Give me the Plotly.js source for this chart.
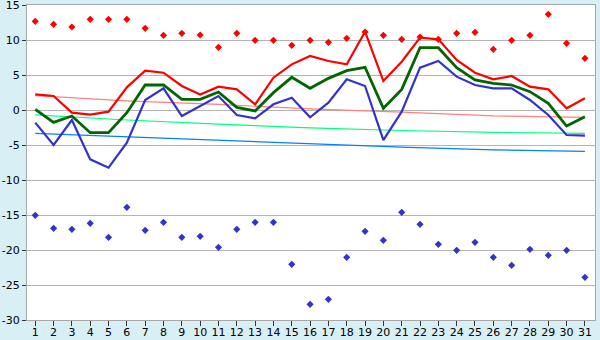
<!DOCTYPE html>
<html>
<head>
<meta charset="utf-8">
<script src="https://cdn.plot.ly/plotly-3.0.1.min.js"></script>
<style>html,body{margin:0;padding:0;background:#d9eff6;}#chart{width:600px;height:340px;}</style>
</head>
<body>
<div id="chart"></div>
<script>
const days = Array.from({length: 31}, (_, i) => i + 1);
const recordMax = [12.67, 12.24, 11.86, 12.95, 12.95, 12.95, 11.67, 10.67, 10.95, 10.71, 8.95, 10.95, 9.95, 9.95, 9.24, 9.95, 9.67, 10.24, 11.14, 10.67, 10.1, 10.43, 10.1, 10.95, 11.1, 8.67, 9.95, 10.67, 13.67, 9.52, 7.38];
const meanMax = [2.24, 2.0, -0.38, -0.67, -0.24, 3.24, 5.62, 5.33, 3.43, 2.2, 3.33, 2.95, 0.81, 4.62, 6.52, 7.71, 7.0, 6.52, 11.19, 4.14, 6.9, 10.33, 10.1, 7.14, 5.33, 4.38, 4.86, 3.33, 2.95, 0.24, 1.67];
const meanTemp = [0.1, -1.76, -0.86, -3.24, -3.24, -0.38, 3.57, 3.57, 1.52, 1.52, 2.57, 0.38, -0.14, 2.48, 4.67, 3.1, 4.52, 5.62, 6.1, 0.24, 2.95, 8.9, 8.9, 6.05, 4.29, 3.81, 3.57, 2.62, 0.95, -2.29, -0.95];
const meanMin = [-1.81, -5.0, -1.43, -7.05, -8.24, -4.67, 1.43, 3.1, -0.86, 0.57, 2.0, -0.71, -1.19, 0.81, 1.76, -1.05, 1.05, 4.38, 3.43, -4.29, -0.24, 6.05, 7.0, 4.76, 3.57, 3.1, 3.1, 1.43, -0.71, -3.57, -3.67];
const recordMin = [-15.05, -16.9, -17.05, -16.19, -18.19, -13.9, -17.19, -16.05, -18.19, -18.05, -19.62, -17.05, -16.05, -16.05, -22.05, -27.76, -27.05, -21.05, -17.33, -18.62, -14.62, -16.33, -19.19, -20.05, -18.9, -21.05, -22.19, -19.9, -20.76, -20.05, -23.9];
const trendDays = [1, 6, 11, 16, 21, 26, 31];
const trendMax = [2.05, 1.3, 0.8, 0.15, -0.3, -0.85, -1.05];
const trendMean = [-0.71, -1.43, -2.03, -2.55, -2.93, -3.19, -3.33];
const trendMin = [-3.33, -3.81, -4.35, -4.86, -5.3, -5.71, -5.9];
const yTicks = [-30, -25, -20, -15, -10, -5, 0, 5, 10, 15];

const traces = [
  {x: trendDays, y: trendMax, mode: 'lines', line: {color: '#ff8080', width: 1.2}, hoverinfo: 'skip'},
  {x: trendDays, y: trendMean, mode: 'lines', line: {color: '#00ff80', width: 1.2}, hoverinfo: 'skip'},
  {x: trendDays, y: trendMin, mode: 'lines', line: {color: '#0080ff', width: 1.2}, hoverinfo: 'skip'},
  {x: days, y: meanMin, mode: 'lines', line: {color: '#3333cc', width: 2.2}},
  {x: days, y: meanTemp, mode: 'lines', line: {color: '#006600', width: 2.8}},
  {x: days, y: meanMax, mode: 'lines', line: {color: '#ff0000', width: 2.2}},
  {x: days, y: recordMax, mode: 'markers', marker: {color: '#ff0000', symbol: 'diamond', size: 5.5}},
  {x: days, y: recordMin, mode: 'markers', marker: {color: '#3333cc', symbol: 'diamond', size: 5.5}}
];

const layout = {
  width: 600, height: 340,
  margin: {l: 27, r: 5, t: 5, b: 20, pad: 0},
  paper_bgcolor: '#d9eff6',
  plot_bgcolor: '#ffffff',
  showlegend: false,
  font: {family: 'DejaVu Sans, Verdana, sans-serif', size: 11, color: '#000'},
  xaxis: {
    range: [0.55, 31.55], tickmode: 'array', tickvals: days, ticktext: days.map(String),
    showgrid: false, zeroline: false, showline: true, linecolor: '#a8a8a8', linewidth: 1, mirror: true,
    ticks: 'outside', ticklen: 5, tickcolor: '#333', tickfont: {size: 11},
    ticklabelstandoff: -3, ticklabeloverflow: 'allow'
  },
  yaxis: {
    range: [-30, 15], tickmode: 'array', tickvals: yTicks, ticktext: yTicks.map(String),
    showgrid: true, gridcolor: '#b4b4b4', gridwidth: 1, zeroline: false,
    showline: true, linecolor: '#a8a8a8', linewidth: 1, mirror: true,
    ticks: 'outside', ticklen: 4, tickcolor: '#333', tickfont: {size: 11},
    ticklabeloverflow: 'allow'
  }
};

Plotly.newPlot('chart', traces, layout, {staticPlot: true, displayModeBar: false});
</script>
</body>
</html>
